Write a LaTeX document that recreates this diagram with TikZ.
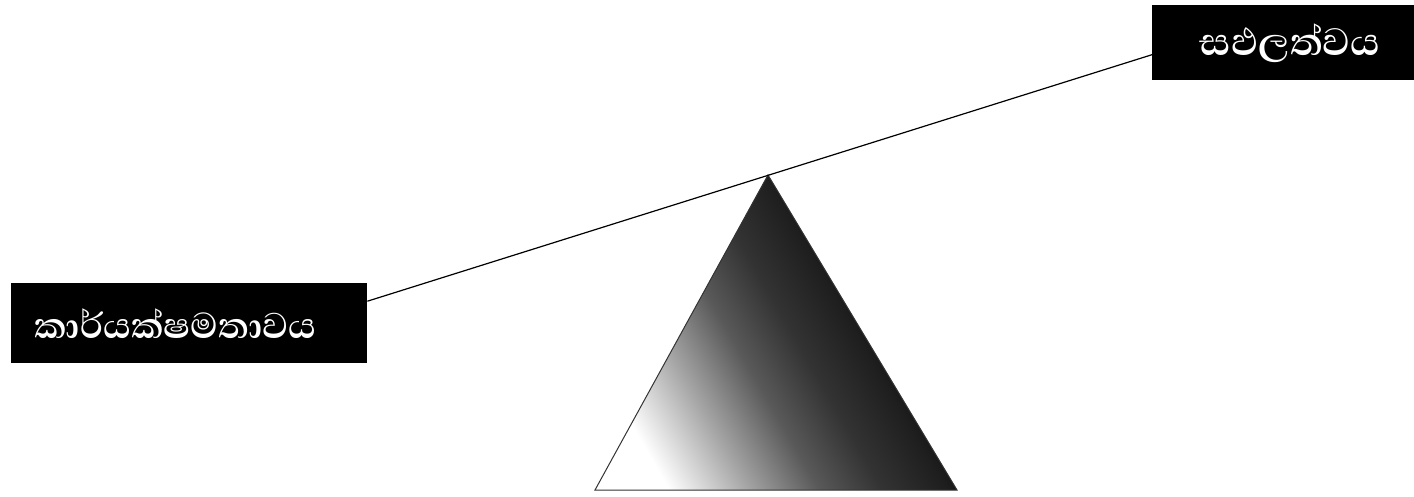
\documentclass[tikz,border=0pt]{standalone}
\usepackage{fontspec}
\newfontfamily\sinhalafont[Script=Sinhala]{Abhaya Libre}
\pgfdeclarehorizontalshading{fulcrum}{100bp}{color(0bp)=(white); color(25bp)=(white);
  color(35bp)=(black!35); color(44bp)=(black!65); color(52bp)=(black!80);
  color(60bp)=(black!88); color(68bp)=(black); color(100bp)=(black)}
\tikzset{
  blackbox/.style={fill=black, text=white, inner sep=0pt,
    font=\sinhalafont\bfseries\fontsize{46}{52}\selectfont}
}
\begin{document}
\begin{tikzpicture}[x=1pt,y=-1pt]
\useasboundingbox (0,0) rectangle (1414,496);
   \node[blackbox, anchor=north west, minimum width=356pt, minimum height=80pt,
     text width=310pt, align=left] at (11,283) (K) {කාර්යක්ෂමතාවය};
   \node[blackbox, anchor=north west, minimum width=262pt, minimum height=75pt,
     text width=262pt, align=center, font=\sinhalafont\bfseries\fontsize{49}{54}\selectfont]
     at (1152,5) (S) {\hspace*{14pt}සඵලත්වය};

   \coordinate (apex) at (768,175);
   \coordinate (bl) at (595,490);
   \coordinate (br) at (957,490);

   % fulcrum
   \shade[shading=fulcrum, shading angle=30]
      (apex) -- (bl) -- (br) -- cycle;
   \draw[line width=1pt, black!80] (apex) -- (bl) -- (br) -- cycle;

   % beam
   \draw[line width=1.2pt] ([yshift=22pt]K.east) -- ([yshift=-12pt]S.west);
\end{tikzpicture}
\end{document}
